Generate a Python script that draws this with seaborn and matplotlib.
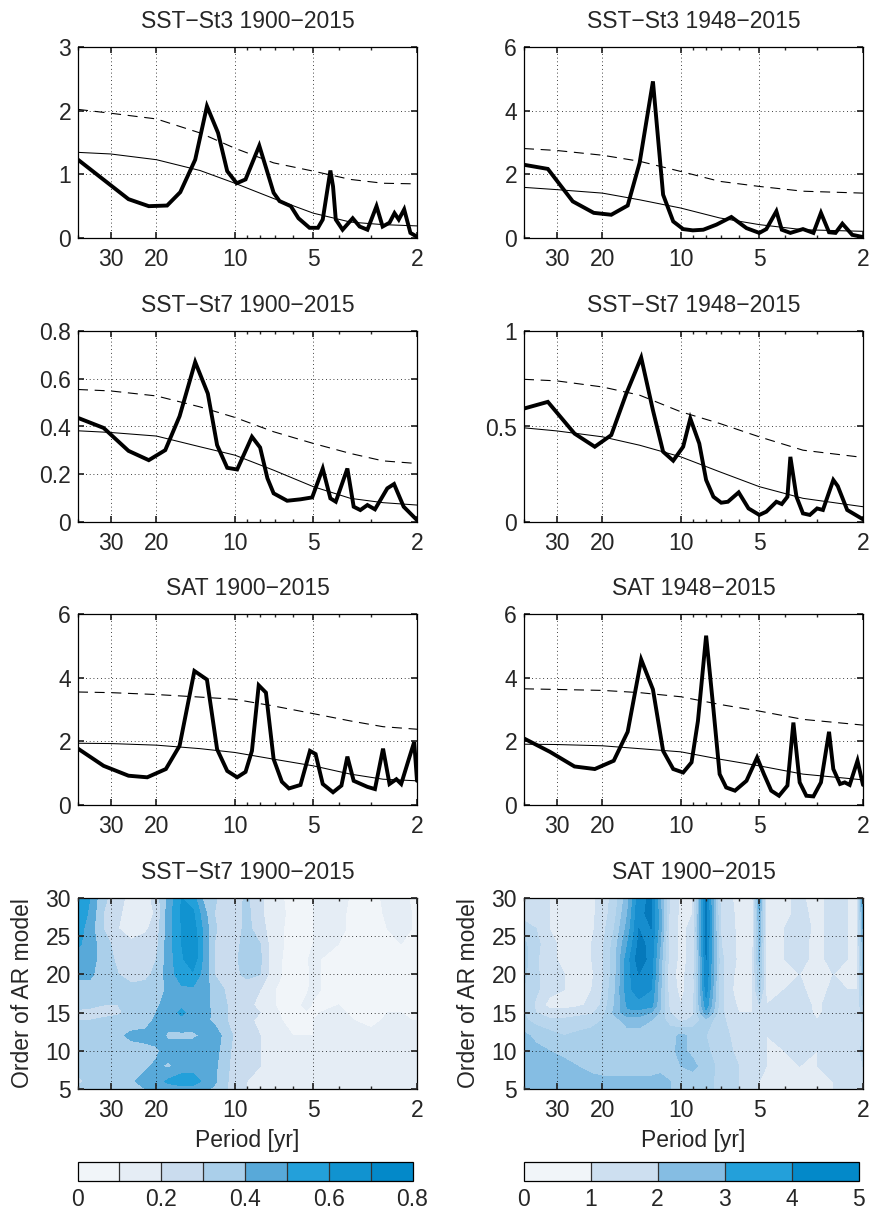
import numpy as np
import matplotlib
matplotlib.use("Agg")
import matplotlib.pyplot as plt
import matplotlib.cm as cm
from matplotlib.colors import ListedColormap, BoundaryNorm
from matplotlib.ticker import FixedLocator, NullFormatter, FormatStrFormatter
import seaborn as sns

# ── spectra: thick = periodogram, thin = AR fit, dashed = 95% level ──────────
P1 = [40, 25.6, 21.4, 18.2, 16.2, 14.2, 12.8, 11.6, 10.7, 9.84, 9.1, 8.06, 7.55, 7.1,
      6.74, 6.1, 5.7, 5.17, 4.8, 4.6, 4.3, 4.2, 4.1, 3.86, 3.53, 3.32, 3.1, 2.86,
      2.71, 2.55, 2.44, 2.35, 2.24, 2.12, 2.0]
S1 = [1.23, 0.61, 0.50, 0.51, 0.72, 1.23, 2.07, 1.65, 1.05, 0.86, 0.92, 1.45, 1.07, 0.71,
      0.58, 0.50, 0.31, 0.16, 0.16, 0.29, 1.06, 0.81, 0.29, 0.13, 0.31, 0.18, 0.13, 0.50,
      0.18, 0.24, 0.39, 0.29, 0.45, 0.08, 0.02]

P2 = [40, 32.4, 26, 21.6, 18.5, 16, 14.4, 12.8, 11.7, 10.7, 9.8, 9.0, 8.2, 7.3, 6.4,
      5.6, 5.0, 4.7, 4.3, 4.1, 3.8, 3.4, 3.1, 2.9, 2.7, 2.55, 2.4, 2.2, 2.0]
S2 = [2.30, 2.17, 1.15, 0.79, 0.73, 1.02, 2.36, 4.92, 1.36, 0.52, 0.28, 0.24, 0.26, 0.42, 0.66,
      0.31, 0.16, 0.28, 0.84, 0.26, 0.16, 0.28, 0.16, 0.79, 0.18, 0.16, 0.45, 0.10, 0.03]

P3 = [40, 31.9, 25.6, 21.4, 18.5, 16.3, 14.2, 12.7, 11.7, 10.7, 9.8, 8.6, 8.0, 7.5, 7.1,
      6.3, 5.6, 5.05, 4.6, 4.3, 4.1, 3.7, 3.5, 3.3, 3.1, 2.9, 2.6, 2.45, 2.25, 2.0]
S3 = [0.436, 0.394, 0.298, 0.259, 0.301, 0.443, 0.670, 0.538, 0.322, 0.227, 0.220, 0.357,
      0.312, 0.183, 0.120, 0.089, 0.095, 0.103, 0.224, 0.099, 0.085, 0.224, 0.064, 0.050,
      0.071, 0.053, 0.141, 0.159, 0.064, 0.008]

P4 = [40, 32.4, 25.6, 21.4, 18.5, 16.2, 14.2, 12.8, 11.7, 10.7, 9.8, 9.2, 8.5, 8.0, 7.5,
      7.0, 6.6, 6.0, 5.5, 5.0, 4.7, 4.3, 4.1, 3.9, 3.8, 3.6, 3.4, 3.2, 3.0, 2.85, 2.6,
      2.5, 2.3, 2.0]
S4 = [0.594, 0.629, 0.463, 0.394, 0.455, 0.672, 0.861, 0.585, 0.368, 0.321, 0.394, 0.542,
      0.411, 0.220, 0.132, 0.101, 0.106, 0.155, 0.071, 0.037, 0.054, 0.106, 0.094, 0.132,
      0.341, 0.132, 0.045, 0.037, 0.071, 0.063, 0.220, 0.188, 0.063, 0.014]

P5 = [40, 31.9, 25.6, 21.7, 18.4, 16.3, 14.3, 12.8, 11.7, 10.7, 9.8, 9.1, 8.6, 8.1, 7.6,
      7.1, 6.6, 6.2, 5.6, 5.15, 4.9, 4.6, 4.2, 3.9, 3.7, 3.5, 3.1, 2.9, 2.7, 2.55, 2.4,
      2.3, 2.15, 2.05, 2.0]
S5 = [1.77, 1.23, 0.92, 0.87, 1.13, 1.86, 4.21, 3.94, 1.75, 1.07, 0.87, 1.04, 1.70, 3.76, 3.53,
      1.44, 0.73, 0.52, 0.63, 1.70, 1.60, 0.66, 0.40, 0.61, 1.52, 0.76, 0.57, 0.50, 1.77, 0.66,
      0.81, 0.66, 1.44, 1.98, 0.76]

P6 = [40, 31.8, 25.6, 21.4, 18.1, 16.0, 14.2, 12.8, 11.7, 10.7, 9.8, 9.1, 8.6, 8.0, 7.5,
      7.1, 6.7, 6.2, 5.6, 5.1, 4.8, 4.5, 4.2, 3.9, 3.7, 3.5, 3.3, 3.1, 2.9, 2.7, 2.6,
      2.45, 2.35, 2.25, 2.1, 2.0]
S6 = [2.09, 1.67, 1.21, 1.13, 1.39, 2.30, 4.57, 3.63, 1.70, 1.13, 1.02, 1.34, 2.64, 5.32, 3.01,
      0.97, 0.55, 0.45, 0.76, 1.49, 0.97, 0.45, 0.29, 0.61, 2.59, 0.71, 0.29, 0.27, 0.71, 2.30,
      1.13, 0.66, 0.71, 0.63, 1.39, 0.63]

FIT_P_L = [40, 30, 20, 13.6, 10, 7.1, 5, 3.6, 2.7, 2]
FIT_P_R = [40, 30, 20, 14.4, 10, 7.1, 5, 3.4, 2]

AR1 = [1.345, 1.32, 1.23, 1.06, 0.86, 0.62, 0.39, 0.25, 0.21, 0.19]
CI1 = [2.02, 1.96, 1.87, 1.65, 1.41, 1.18, 1.05, 0.92, 0.86, 0.85]
AR2 = [1.59, 1.52, 1.41, 1.20, 0.94, 0.63, 0.42, 0.26, 0.21]
CI2 = [2.81, 2.75, 2.60, 2.41, 2.09, 1.78, 1.62, 1.47, 1.41]
AR3 = [0.382, 0.375, 0.360, 0.315, 0.280, 0.217, 0.148, 0.099, 0.081, 0.071]
CI3 = [0.555, 0.549, 0.528, 0.482, 0.438, 0.378, 0.329, 0.287, 0.256, 0.245]
AR4 = [0.493, 0.477, 0.446, 0.402, 0.341, 0.263, 0.185, 0.124, 0.080]
CI4 = [0.747, 0.739, 0.707, 0.664, 0.577, 0.516, 0.446, 0.376, 0.338]
AR5 = [1.94, 1.93, 1.88, 1.77, 1.65, 1.44, 1.23, 0.97, 0.81, 0.76]
CI5 = [3.55, 3.53, 3.47, 3.39, 3.32, 3.11, 2.87, 2.64, 2.46, 2.38]
AR6 = [1.91, 1.90, 1.86, 1.77, 1.67, 1.44, 1.23, 0.97, 0.79]
CI6 = [3.65, 3.63, 3.60, 3.53, 3.40, 3.16, 2.95, 2.69, 2.51]

TITLES = ["SST\u2212St3 1900\u22122015", "SST\u2212St3 1948\u22122015",
          "SST\u2212St7 1900\u22122015", "SST\u2212St7 1948\u22122015",
          "SAT 1900\u22122015", "SAT 1948\u22122015"]
YLIMS = [3, 6, 0.8, 1, 6, 6]
YTICKS = [[0, 1, 2, 3], [0, 2, 4, 6], [0, 0.2, 0.4, 0.6, 0.8], [0, 0.5, 1],
          [0, 2, 4, 6], [0, 2, 4, 6]]

# ── AR-order sensitivity maps ────────────────────────────────────────────────
GRID_P = [40, 36, 32, 28, 25, 22, 20, 18, 16, 14.5, 13, 12, 11, 10, 9, 8, 7, 6,
          5.3, 5, 4.7, 4, 3.5, 3, 2.6, 2.3, 2.1, 2]
ORDERS = [5, 6, 8, 10, 12, 14, 15, 16, 18, 20, 22, 24, 26, 28, 30]

MAP_ST7 = [
    [0.33, 0.35, 0.36, 0.37, 0.38, 0.40, 0.42, 0.45, 0.46, 0.45, 0.42, 0.38, 0.32, 0.25, 0.20, 0.20, 0.18, 0.14, 0.12, 0.12, 0.12, 0.15, 0.14, 0.15, 0.18, 0.18, 0.16, 0.15],
    [0.27, 0.33, 0.35, 0.36, 0.38, 0.45, 0.45, 0.52, 0.55, 0.55, 0.47, 0.42, 0.33, 0.25, 0.20, 0.20, 0.18, 0.14, 0.12, 0.12, 0.12, 0.15, 0.14, 0.15, 0.18, 0.18, 0.16, 0.15],
    [0.34, 0.34, 0.34, 0.35, 0.36, 0.38, 0.42, 0.38, 0.45, 0.45, 0.45, 0.43, 0.33, 0.27, 0.22, 0.20, 0.17, 0.12, 0.12, 0.12, 0.12, 0.14, 0.12, 0.13, 0.15, 0.15, 0.14, 0.13],
    [0.35, 0.35, 0.35, 0.35, 0.36, 0.37, 0.38, 0.45, 0.46, 0.46, 0.46, 0.45, 0.35, 0.27, 0.22, 0.20, 0.15, 0.12, 0.12, 0.12, 0.12, 0.14, 0.12, 0.12, 0.14, 0.14, 0.13, 0.12],
    [0.35, 0.35, 0.36, 0.38, 0.42, 0.43, 0.45, 0.38, 0.38, 0.38, 0.42, 0.45, 0.38, 0.28, 0.22, 0.20, 0.15, 0.10, 0.10, 0.10, 0.11, 0.14, 0.12, 0.12, 0.12, 0.13, 0.12, 0.12],
    [0.30, 0.30, 0.32, 0.34, 0.35, 0.36, 0.42, 0.45, 0.47, 0.45, 0.42, 0.38, 0.32, 0.25, 0.22, 0.18, 0.12, 0.07, 0.09, 0.10, 0.11, 0.12, 0.10, 0.08, 0.11, 0.11, 0.10, 0.10],
    [0.27, 0.26, 0.26, 0.28, 0.34, 0.36, 0.40, 0.45, 0.52, 0.46, 0.43, 0.38, 0.32, 0.25, 0.30, 0.20, 0.11, 0.07, 0.09, 0.09, 0.10, 0.11, 0.09, 0.07, 0.10, 0.10, 0.09, 0.09],
    [0.34, 0.33, 0.30, 0.30, 0.32, 0.34, 0.38, 0.45, 0.48, 0.46, 0.42, 0.38, 0.32, 0.25, 0.22, 0.18, 0.10, 0.06, 0.12, 0.09, 0.10, 0.10, 0.08, 0.06, 0.09, 0.10, 0.09, 0.08],
    [0.36, 0.36, 0.35, 0.34, 0.33, 0.33, 0.35, 0.42, 0.48, 0.48, 0.45, 0.35, 0.30, 0.25, 0.25, 0.20, 0.10, 0.06, 0.09, 0.12, 0.10, 0.10, 0.08, 0.06, 0.09, 0.10, 0.09, 0.08],
    [0.42, 0.42, 0.35, 0.30, 0.26, 0.28, 0.32, 0.45, 0.55, 0.58, 0.45, 0.30, 0.25, 0.28, 0.32, 0.30, 0.12, 0.07, 0.09, 0.11, 0.10, 0.10, 0.08, 0.06, 0.10, 0.10, 0.09, 0.08],
    [0.45, 0.45, 0.35, 0.28, 0.25, 0.26, 0.30, 0.45, 0.58, 0.68, 0.45, 0.30, 0.25, 0.28, 0.35, 0.32, 0.12, 0.07, 0.09, 0.13, 0.10, 0.10, 0.08, 0.06, 0.10, 0.10, 0.09, 0.08],
    [0.52, 0.45, 0.35, 0.25, 0.22, 0.25, 0.27, 0.45, 0.60, 0.70, 0.45, 0.30, 0.25, 0.26, 0.35, 0.30, 0.12, 0.08, 0.09, 0.10, 0.12, 0.10, 0.08, 0.06, 0.10, 0.10, 0.09, 0.08],
    [0.55, 0.45, 0.30, 0.20, 0.15, 0.18, 0.25, 0.45, 0.60, 0.66, 0.45, 0.32, 0.25, 0.25, 0.33, 0.25, 0.12, 0.08, 0.09, 0.10, 0.15, 0.12, 0.08, 0.07, 0.10, 0.12, 0.10, 0.10],
    [0.58, 0.48, 0.30, 0.22, 0.14, 0.14, 0.22, 0.45, 0.62, 0.62, 0.42, 0.30, 0.24, 0.25, 0.33, 0.22, 0.13, 0.08, 0.09, 0.10, 0.12, 0.12, 0.08, 0.07, 0.11, 0.13, 0.10, 0.10],
    [0.58, 0.50, 0.32, 0.25, 0.15, 0.15, 0.25, 0.42, 0.60, 0.55, 0.35, 0.32, 0.25, 0.25, 0.32, 0.22, 0.12, 0.08, 0.09, 0.10, 0.12, 0.14, 0.08, 0.07, 0.12, 0.13, 0.09, 0.09],
]

MAP_SAT = [
    [2.8, 2.8, 2.8, 2.7, 2.7, 2.7, 2.7, 2.7, 2.7, 2.7, 2.6, 2.6, 2.5, 2.4, 2.3, 2.2, 1.8, 1.5, 1.2, 1.0, 0.9, 0.9, 0.9, 0.9, 1.0, 1.1, 1.1, 1.3],
    [2.8, 2.8, 2.7, 2.7, 2.6, 2.6, 2.6, 2.6, 2.6, 2.6, 2.6, 2.6, 2.5, 2.5, 2.3, 2.2, 1.8, 1.5, 1.2, 1.0, 0.9, 0.9, 0.9, 0.9, 1.0, 1.1, 1.1, 1.3],
    [2.7, 2.7, 2.6, 2.6, 2.5, 2.4, 2.3, 2.3, 2.3, 2.3, 2.3, 2.4, 2.4, 2.5, 2.6, 2.3, 1.8, 1.5, 1.2, 1.1, 1.0, 1.0, 1.0, 1.0, 1.1, 1.1, 1.2, 1.5],
    [2.7, 2.6, 2.5, 2.4, 2.2, 2.2, 2.2, 2.2, 2.2, 2.2, 2.2, 2.2, 2.4, 2.6, 2.4, 2.1, 1.7, 1.4, 1.2, 1.1, 1.0, 1.0, 1.1, 1.0, 1.1, 1.1, 1.2, 1.8],
    [2.6, 2.4, 2.2, 2.0, 2.1, 2.2, 2.2, 2.2, 2.3, 2.3, 2.3, 2.2, 2.3, 2.6, 2.4, 2.0, 1.6, 1.4, 1.2, 1.1, 1.0, 1.1, 1.2, 1.0, 1.2, 1.1, 1.1, 1.5],
    [2.1, 1.8, 1.6, 1.6, 1.7, 1.8, 2.0, 2.3, 2.7, 2.7, 2.5, 2.2, 1.8, 1.4, 1.6, 2.3, 1.6, 1.2, 1.1, 1.1, 1.0, 1.1, 1.3, 1.0, 1.2, 1.1, 1.1, 1.6],
    [2.0, 1.5, 1.2, 1.2, 1.3, 1.4, 1.8, 2.6, 3.4, 3.3, 3.0, 2.4, 1.5, 1.1, 1.4, 3.3, 1.6, 1.0, 1.0, 1.2, 1.0, 1.1, 1.3, 0.9, 1.2, 1.1, 1.1, 1.8],
    [2.0, 1.4, 0.8, 0.8, 0.9, 1.1, 1.6, 2.5, 3.6, 3.8, 3.7, 2.6, 1.3, 1.0, 1.3, 3.8, 1.6, 0.9, 1.0, 1.5, 1.0, 1.1, 1.2, 0.9, 1.2, 1.1, 1.1, 2.0],
    [2.0, 1.6, 1.2, 1.0, 0.9, 1.0, 1.5, 2.4, 3.8, 4.3, 4.0, 2.6, 1.2, 0.9, 1.2, 4.2, 1.6, 0.7, 1.0, 2.2, 0.9, 1.0, 1.1, 0.8, 1.1, 1.0, 1.0, 2.4],
    [2.1, 1.6, 1.2, 1.0, 0.9, 0.9, 1.4, 2.3, 3.8, 4.5, 4.2, 2.7, 1.1, 0.9, 1.2, 4.4, 1.6, 0.8, 1.0, 2.4, 0.9, 0.9, 1.0, 0.8, 1.0, 1.0, 1.0, 2.5],
    [2.2, 1.6, 1.1, 0.9, 0.9, 1.0, 1.4, 2.3, 3.8, 4.8, 4.3, 2.8, 1.2, 0.9, 1.1, 4.5, 1.6, 0.9, 1.0, 2.6, 0.9, 1.0, 1.1, 0.9, 1.1, 1.0, 1.0, 2.6],
    [2.1, 1.7, 1.1, 0.9, 0.9, 1.0, 1.4, 2.2, 3.5, 4.6, 4.4, 3.0, 1.2, 0.9, 1.1, 4.6, 1.5, 0.9, 0.9, 2.7, 0.9, 1.0, 1.1, 0.9, 1.1, 1.0, 1.0, 2.8],
    [1.6, 1.5, 1.0, 0.9, 0.9, 0.9, 1.3, 2.0, 3.2, 4.5, 4.5, 3.2, 1.2, 0.9, 1.1, 4.7, 1.4, 0.9, 0.9, 2.8, 0.9, 1.0, 1.2, 0.9, 1.1, 1.0, 1.0, 3.0],
    [1.4, 1.4, 1.0, 0.9, 0.9, 0.9, 1.2, 1.8, 3.0, 4.4, 4.6, 3.2, 1.3, 0.9, 1.0, 4.7, 1.3, 0.9, 0.8, 3.0, 0.8, 0.9, 1.1, 0.9, 1.1, 1.0, 1.0, 3.3],
    [1.5, 1.4, 1.0, 0.9, 0.9, 0.9, 1.2, 1.7, 2.8, 4.3, 4.6, 3.0, 1.4, 0.9, 1.0, 4.6, 1.2, 0.9, 0.9, 3.4, 0.7, 0.9, 1.1, 0.8, 1.2, 1.0, 1.0, 3.6],
]

ST7_LEVELS = [0, 0.1, 0.2, 0.3, 0.4, 0.5, 0.6, 0.7, 0.8]
SAT_LEVELS = [0, 0.5, 1, 1.5, 2, 2.5, 3, 3.5, 4, 4.5, 5]
SAT_CBAR = [0, 1, 2, 3, 4, 5]

PERIOD_TICKS = [30, 20, 10, 5, 2]

# ── style ─────────────────────────────────────────────────────────────────────
sns.set_theme(style="ticks")
plt.rcParams.update({
    "font.family": ["Liberation Sans", "DejaVu Sans"],
    "font.size": 16.5,
    "axes.linewidth": 0.9,
    "axes.edgecolor": "black",
    "xtick.direction": "in",
    "ytick.direction": "in",
    "xtick.top": True,
    "ytick.right": True,
    "xtick.major.size": 4,
    "ytick.major.size": 4,
    "xtick.minor.size": 2,
    "xtick.major.pad": 7,
    "ytick.major.pad": 5,
    "xtick.labelsize": 16.5,
    "ytick.labelsize": 16.5,
})

ST7_COLORS = ["#f1f5f9", "#e5edf5", "#cadcee", "#aacfea", "#58a9d9", "#23a0da",
              "#1193d0", "#0389c9"]
SAT_COLORS = ["#f1f5f9", "#e4ecf4", "#cddff0", "#b9d6ed", "#a9cfea", "#85bde3",
              "#5aaad9", "#2a9bd6", "#168dce", "#0579bb"]
SAT_CB_COLORS = ["#f1f5f9", "#cddff0", "#85bde3", "#23a0da", "#0389c9"]

W = 873
H = 1215
COL_X = [78, 524]
AX_W = 339
ROW_Y = [47, 331, 614, 898]
AX_H = 191


def add_axes(fig, col, row):
    x0 = COL_X[col] / W
    y0 = 1 - (ROW_Y[row] + AX_H) / H
    return fig.add_axes([x0, y0, AX_W / W, AX_H / H])


def period_axis(ax):
    ax.set_xscale("log")
    ax.set_xlim(40, 2)
    ax.xaxis.set_major_locator(FixedLocator(PERIOD_TICKS))
    ax.xaxis.set_major_formatter(FormatStrFormatter("%g"))
    ax.xaxis.set_minor_formatter(NullFormatter())
    ax.grid(True, which="major", color="black", lw=0.6, ls=(0, (1, 3.5)))
    ax.grid(False, which="minor")
    for s in ax.spines.values():
        s.set_color("black")
        s.set_linewidth(0.9)


fig = plt.figure(figsize=(W / 100, H / 100), dpi=100)
fig.patch.set_facecolor("white")

spectra = [(P1, S1, FIT_P_L, AR1, CI1), (P2, S2, FIT_P_R, AR2, CI2),
           (P3, S3, FIT_P_L, AR3, CI3), (P4, S4, FIT_P_R, AR4, CI4),
           (P5, S5, FIT_P_L, AR5, CI5), (P6, S6, FIT_P_R, AR6, CI6)]

for i, (p, s, fp, ar, ci) in enumerate(spectra):
    ax = add_axes(fig, i % 2, i // 2)
    ax.set_facecolor("white")
    ax.set_xscale("log")
    sns.lineplot(x=fp, y=ci, ax=ax, color="black", lw=0.8, linestyle=(0, (9, 6)),
                 estimator=None, sort=False)
    sns.lineplot(x=fp, y=ar, ax=ax, color="black", lw=0.75, estimator=None, sort=False)
    sns.lineplot(x=p, y=s, ax=ax, color="black", lw=2.8, estimator=None, sort=False,
                 solid_joinstyle="miter")
    period_axis(ax)
    ax.set_ylim(0, YLIMS[i])
    ax.set_yticks(YTICKS[i])
    ax.yaxis.set_major_formatter(FormatStrFormatter("%g"))
    ax.set_xlabel("")
    ax.set_ylabel("")
    ax.set_title(TITLES[i], fontsize=16.5, pad=13.5)

# contour maps
maps = [(MAP_ST7, ST7_LEVELS, ST7_COLORS, "SST\u2212St7 1900\u22122015"),
        (MAP_SAT, SAT_LEVELS, SAT_COLORS, "SAT 1900\u22122015")]
px = np.asarray(GRID_P)[::-1]
for col, (z, lev, colors, title) in enumerate(maps):
    ax = add_axes(fig, col, 3)
    zz = np.asarray(z)[:, ::-1]
    cs = ax.contourf(px, ORDERS, zz, levels=lev, colors=colors)
    period_axis(ax)
    ax.set_axisbelow(False)
    ax.set_ylim(5, 30)
    ax.set_yticks([5, 10, 15, 20, 25, 30])
    ax.set_ylabel("Order of AR model", fontsize=16.5, labelpad=8)
    ax.set_xlabel("Period [yr]", fontsize=16.5, labelpad=5)
    ax.set_title(title, fontsize=16.5, pad=13.5)

    cax = fig.add_axes([(COL_X[col] - 0.5) / W, 1 - 1181 / H, 335 / W, 19 / H])
    if col == 0:
        cb = fig.colorbar(cs, cax=cax, orientation="horizontal", ticks=ST7_LEVELS[::2],
                          drawedges=True)
        cb.ax.xaxis.set_major_formatter(FormatStrFormatter("%g"))
    else:
        sm = cm.ScalarMappable(norm=BoundaryNorm(SAT_CBAR, len(SAT_CB_COLORS)),
                               cmap=ListedColormap(SAT_CB_COLORS))
        cb = fig.colorbar(sm, cax=cax, orientation="horizontal", ticks=SAT_CBAR,
                          drawedges=True)
    cb.dividers.set_color("#333333")
    cb.dividers.set_linewidth(0.9)
    cb.outline.set_linewidth(0.9)
    cb.outline.set_edgecolor("black")
    cb.ax.tick_params(length=0, pad=5, labelsize=16.5, top=False)
    cb.ax.minorticks_off()

fig.savefig("out.png", dpi=100, facecolor="white")
